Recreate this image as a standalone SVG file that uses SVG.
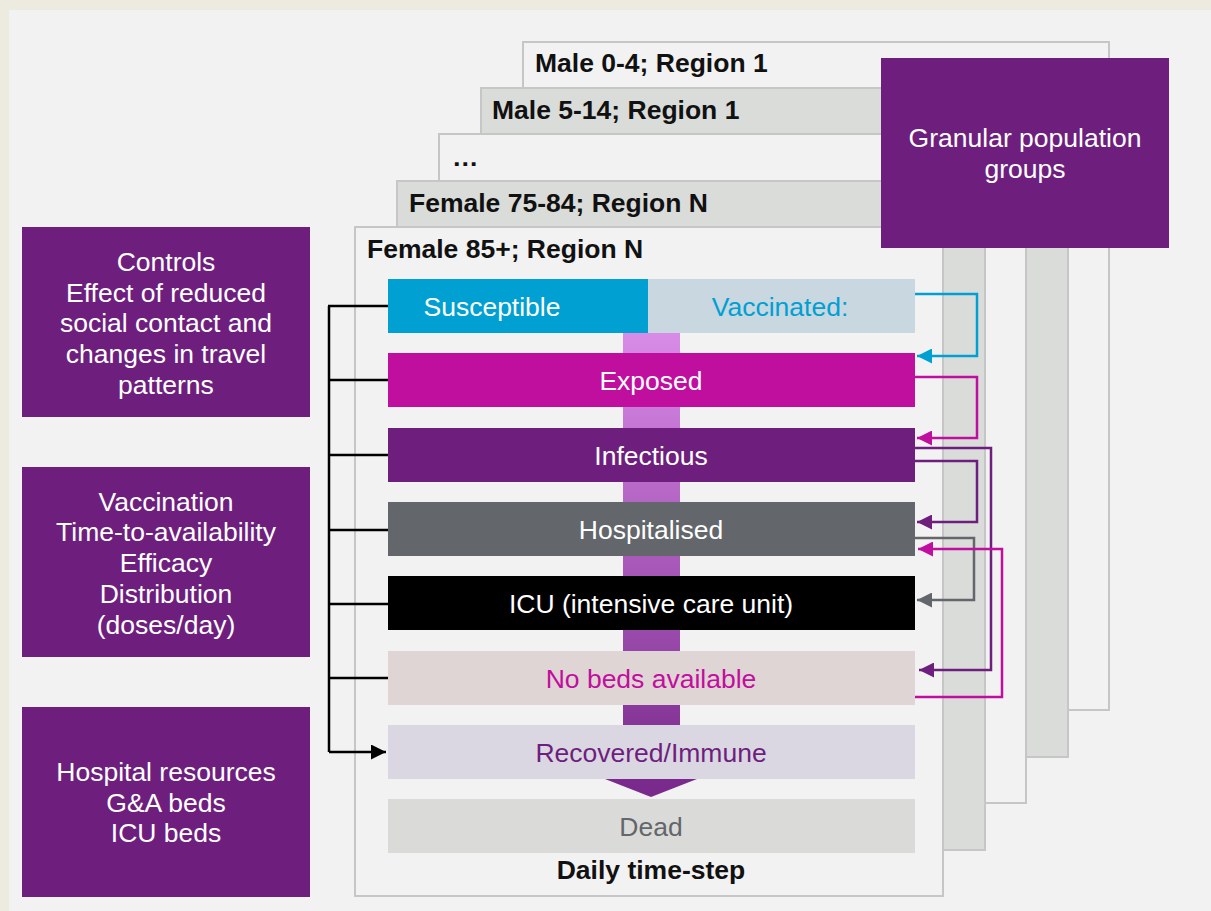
<svg xmlns="http://www.w3.org/2000/svg" width="1211" height="911" viewBox="0 0 1211 911">
<defs>
<style>
text{font-family:"Liberation Sans",Arial,sans-serif;}
.hdr{font-size:26.5px;font-weight:bold;fill:#111;}
.box{font-size:26.5px;fill:#fff;text-anchor:middle;}
.row{font-size:26.5px;text-anchor:middle;}
.card{stroke:#c6c6c6;stroke-width:2;}
.conn{fill:none;stroke-width:2.5;}
</style>
<linearGradient id="bar" x1="0" y1="0" x2="0" y2="1">
<stop offset="0" stop-color="#D98BE8"/>
<stop offset="1" stop-color="#7A2A8C"/>
</linearGradient>
<marker id="aBlue" viewBox="0 0 10 10" refX="10" refY="5" markerWidth="6" markerHeight="6" orient="auto" markerUnits="strokeWidth"><path d="M0,0L10,5L0,10z" fill="#00A0D2"/></marker>
<marker id="aMag" viewBox="0 0 10 10" refX="10" refY="5" markerWidth="6" markerHeight="6" orient="auto" markerUnits="strokeWidth"><path d="M0,0L10,5L0,10z" fill="#C00E9F"/></marker>
<marker id="aPur" viewBox="0 0 10 10" refX="10" refY="5" markerWidth="6" markerHeight="6" orient="auto" markerUnits="strokeWidth"><path d="M0,0L10,5L0,10z" fill="#6E1F7E"/></marker>
<marker id="aGray" viewBox="0 0 10 10" refX="10" refY="5" markerWidth="6" markerHeight="6" orient="auto" markerUnits="strokeWidth"><path d="M0,0L10,5L0,10z" fill="#63666A"/></marker>
<marker id="aBlk" viewBox="0 0 10 10" refX="10" refY="5" markerWidth="6" markerHeight="6" orient="auto" markerUnits="strokeWidth"><path d="M0,0L10,5L0,10z" fill="#000"/></marker>
</defs>
<rect x="0" y="0" width="1211" height="911" fill="#EDEADF"/>
<rect x="9" y="10" width="1202" height="901" fill="#F2F2F2"/>

<g id="cards">
<rect class="card" x="523" y="42" width="586" height="668" fill="#F2F2F2"/>
<rect class="card" x="481" y="88" width="587" height="669" fill="#DADCDA"/>
<rect class="card" x="439" y="134" width="587" height="669" fill="#F2F2F2"/>
<rect class="card" x="397" y="181" width="588" height="669" fill="#DADCDA"/>
<rect class="card" x="355" y="227" width="588" height="669" fill="#F2F2F2"/>
<text class="hdr" x="535" y="72">Male 0-4; Region 1</text>
<text class="hdr" x="492" y="119">Male 5-14; Region 1</text>
<text class="hdr" x="452" y="166">…</text>
<text class="hdr" x="409" y="212">Female 75-84; Region N</text>
<text class="hdr" x="367" y="258">Female 85+; Region N</text>
</g>

<g id="granular">
<rect x="881" y="58" width="288" height="190" fill="#6E1F7E"/>
<text class="box" x="1025" y="147">Granular population</text>
<text class="box" x="1025" y="178">groups</text>
</g>

<g id="controls">
<rect x="22" y="227" width="288" height="190" fill="#6E1F7E"/>
<text class="box" x="166" y="271">Controls</text>
<text class="box" x="166" y="302">Effect of reduced</text>
<text class="box" x="166" y="332">social contact and</text>
<text class="box" x="166" y="363">changes in travel</text>
<text class="box" x="166" y="394">patterns</text>
</g>
<g id="vaccination">
<rect x="22" y="467" width="288" height="190" fill="#6E1F7E"/>
<text class="box" x="166" y="511">Vaccination</text>
<text class="box" x="166" y="541">Time-to-availability</text>
<text class="box" x="166" y="572">Efficacy</text>
<text class="box" x="166" y="603">Distribution</text>
<text class="box" x="166" y="634">(doses/day)</text>
</g>
<g id="hospital">
<rect x="22" y="707" width="288" height="190" fill="#6E1F7E"/>
<text class="box" x="166" y="781">Hospital resources</text>
<text class="box" x="166" y="812">G&amp;A beds</text>
<text class="box" x="166" y="842">ICU beds</text>
</g>

<g id="flowbar">
<rect x="623" y="333" width="57" height="446" fill="url(#bar)"/>
<path d="M605,779 L697,779 L651,797 Z" fill="#7A2A8C"/>
</g>

<g id="susceptible">
<rect x="388" y="279" width="260" height="54" fill="#00A0D2"/>
<text class="row" x="492" y="316" fill="#fff">Susceptible</text>
</g>
<g id="vaccinated">
<rect x="648" y="279" width="267" height="54" fill="#C8D7E0"/>
<text class="row" x="780" y="316" fill="#00A0D2">Vaccinated:</text>
</g>
<g id="exposed">
<rect x="388" y="353" width="527" height="54" fill="#C00E9F"/>
<text class="row" x="651" y="390" fill="#fff">Exposed</text>
</g>
<g id="infectious">
<rect x="388" y="428" width="527" height="54" fill="#6E1F7E"/>
<text class="row" x="651" y="465" fill="#fff">Infectious</text>
</g>
<g id="hospitalised">
<rect x="388" y="502" width="527" height="54" fill="#63666A"/>
<text class="row" x="651" y="539" fill="#fff">Hospitalised</text>
</g>
<g id="icu">
<rect x="388" y="576" width="527" height="54" fill="#000"/>
<text class="row" x="651" y="613" fill="#fff">ICU (intensive care unit)</text>
</g>
<g id="nobeds">
<rect x="388" y="651" width="527" height="54" fill="#E0D5D5"/>
<text class="row" x="651" y="688" fill="#C00E9F">No beds available</text>
</g>
<g id="recovered">
<rect x="388" y="725" width="527" height="54" fill="#DAD7E2"/>
<text class="row" x="651" y="762" fill="#6E1F7E">Recovered/Immune</text>
</g>
<g id="dead">
<rect x="388" y="799" width="527" height="54" fill="#DADBD9"/>
<text class="row" x="651" y="836" fill="#63666A">Dead</text>
</g>
<text x="651" y="879" font-size="26.5px" font-weight="bold" fill="#111" text-anchor="middle">Daily time-step</text>

<g id="connectors">
<path class="conn" stroke="#000" d="M329,306 L329,752"/>
<path class="conn" stroke="#000" d="M328,306 H388 M329,380 H388 M329,455 H388 M329,530 H388 M329,604 H388 M329,678 H388"/>
<path class="conn" stroke="#000" d="M329,752 H386" marker-end="url(#aBlk)"/>
<path class="conn" stroke="#00A0D2" d="M915,294 H977 V356 H917" marker-end="url(#aBlue)"/>
<path class="conn" stroke="#C00E9F" d="M915,377 H977 V438 H917" marker-end="url(#aMag)"/>
<path class="conn" stroke="#6E1F7E" d="M915,448 H991 V670 H919" marker-end="url(#aPur)"/>
<path class="conn" stroke="#6E1F7E" d="M915,461 H977 V522 H917" marker-end="url(#aPur)"/>
<path class="conn" stroke="#63666A" d="M915,538 H974 V600 H917" marker-end="url(#aGray)"/>
<path class="conn" stroke="#C00E9F" d="M915,697 H1002 V549 H918" marker-end="url(#aMag)"/>
</g>
</svg>
